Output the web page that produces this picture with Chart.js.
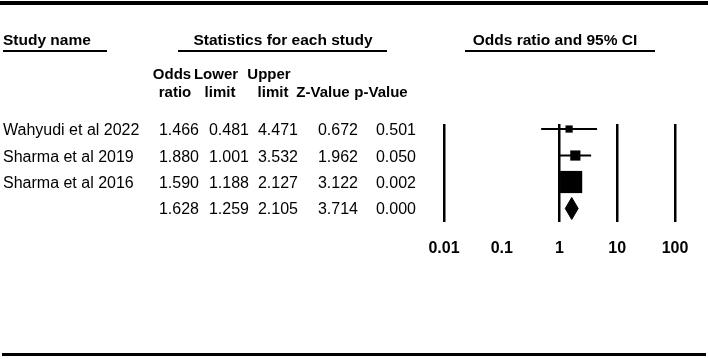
<!DOCTYPE html>
<html>
<head>
<meta charset="utf-8">
<script src="https://cdn.jsdelivr.net/npm/chart.js@4.4.0/dist/chart.umd.min.js"></script>
<style>
    html, body { margin: 0; padding: 0; background: #fff; }
    canvas { display: block; }
</style>
</head>
<body>
<canvas id="forestChart" width="708" height="359"></canvas>
<script>
// Data
const studyNames = ["Wahyudi et al 2022", "Sharma et al 2019", "Sharma et al 2016", ""];
const oddsRatio = [1.466, 1.880, 1.590, 1.628];
const lowerLimit = [0.481, 1.001, 1.188, 1.259];
const upperLimit = [4.471, 3.532, 2.127, 2.105];
const zValue = [0.672, 1.962, 3.122, 3.714];
const pValue = [0.501, 0.050, 0.002, 0.000];
const studyWeight = [8, 16, 76]; // relative weight (%), estimated from square sizes
const tickValues = [0.01, 0.1, 1, 10, 100];
const tickLabels = ["0.01", "0.1", "1", "10", "100"];

const FONT = "'Liberation Sans', Arial, sans-serif";
const summaryRow = 3;

// Step 1: datasets (whiskers, squares, summary diamond)
function buildDatasets() {
    const sets = [];
    for (let i = 0; i < summaryRow; i++) {
        sets.push({
            data: [{ x: lowerLimit[i], y: i }, { x: upperLimit[i], y: i }],
            showLine: true,
            borderColor: "#000",
            borderWidth: 2,
            pointRadius: 0
        });
    }
    sets.push({
        data: oddsRatio.slice(0, summaryRow).map((v, i) => ({ x: v, y: i })),
        pointStyle: "rect",
        pointRadius: studyWeight.map(w => 1.8 * Math.sqrt(w)),
        backgroundColor: "#000",
        borderWidth: 0
    });
    const s = summaryRow;
    sets.push({
        data: [
            { x: lowerLimit[s], y: s },
            { x: oddsRatio[s], y: s - 0.415 },
            { x: upperLimit[s], y: s },
            { x: oddsRatio[s], y: s + 0.415 },
            { x: lowerLimit[s], y: s }
        ],
        showLine: true,
        fill: "shape",
        backgroundColor: "#000",
        borderColor: "#000",
        borderWidth: 1,
        pointRadius: 0
    });
    return sets;
}

// Step 2: table text and rules drawn around the plot
const tablePlugin = {
    id: "tablePlugin",
    afterDraw(chart) {
        const ctx = chart.ctx;
        const yScale = chart.scales.y;
        ctx.save();
        ctx.fillStyle = "#000";

        // top and bottom rules
        ctx.fillRect(0, 1, 708, 4);
        ctx.fillRect(2, 353, 704, 3);

        // section headers with underline
        ctx.font = "bold 15.5px " + FONT;
        ctx.textBaseline = "alphabetic";
        ctx.textAlign = "left";
        ctx.fillText("Study name", 3, 45);
        ctx.textAlign = "center";
        ctx.fillText("Statistics for each study", 283, 45);
        ctx.fillText("Odds ratio and 95% CI", 555, 45);
        ctx.fillRect(3, 50, 104, 2);
        ctx.fillRect(178, 50, 209, 2);
        ctx.fillRect(465, 50, 190, 2);

        // column headers
        ctx.font = "bold 15px " + FONT;
        const line1 = [["Odds", 172], ["Lower", 216], ["Upper", 269]];
        const line2 = [["ratio", 175], ["limit", 220], ["limit", 273], ["Z-Value", 323], ["p-Value", 381]];
        line1.forEach(([t, x]) => ctx.fillText(t, x, 79));
        line2.forEach(([t, x]) => ctx.fillText(t, x, 97));

        // study rows
        ctx.font = "16px " + FONT;
        const colRight = [199, 249, 298, 358, 416];
        studyNames.forEach((name, i) => {
            const y = yScale.getPixelForValue(i) + 6;
            ctx.textAlign = "left";
            ctx.fillText(name, 3, y);
            ctx.textAlign = "right";
            const vals = [oddsRatio[i], lowerLimit[i], upperLimit[i], zValue[i], pValue[i]];
            vals.forEach((v, j) => ctx.fillText(v.toFixed(3), colRight[j], y));
        });
        ctx.restore();
    }
};

new Chart(document.getElementById("forestChart"), {
    type: "scatter",
    data: { datasets: buildDatasets() },
    options: {
        responsive: false,
        animation: false,
        events: [],
        layout: { padding: { left: 444, right: 33, top: 124, bottom: 0 } },
        plugins: { legend: { display: false }, tooltip: { enabled: false } },
        scales: {
            x: {
                type: "logarithmic",
                min: 0.01,
                max: 100,
                afterBuildTicks: scale => { scale.ticks = tickValues.map(v => ({ value: v })); },
                afterFit: scale => { scale.height = 137; },
                border: { display: false },
                grid: {
                    drawTicks: false,
                    lineWidth: 2.5,
                    color: c => (c.tick && c.tick.value === 0.1) ? "rgba(0,0,0,0)" : "#000"
                },
                ticks: {
                    padding: 17,
                    color: "#000",
                    maxRotation: 0,
                    autoSkip: false,
                    font: { family: FONT, size: 16, weight: "bold" },
                    callback: v => tickLabels[tickValues.indexOf(v)]
                }
            },
            y: { type: "linear", min: -0.19, max: 3.51, reverse: true, display: false }
        }
    },
    plugins: [tablePlugin]
});
</script>
</body>
</html>
